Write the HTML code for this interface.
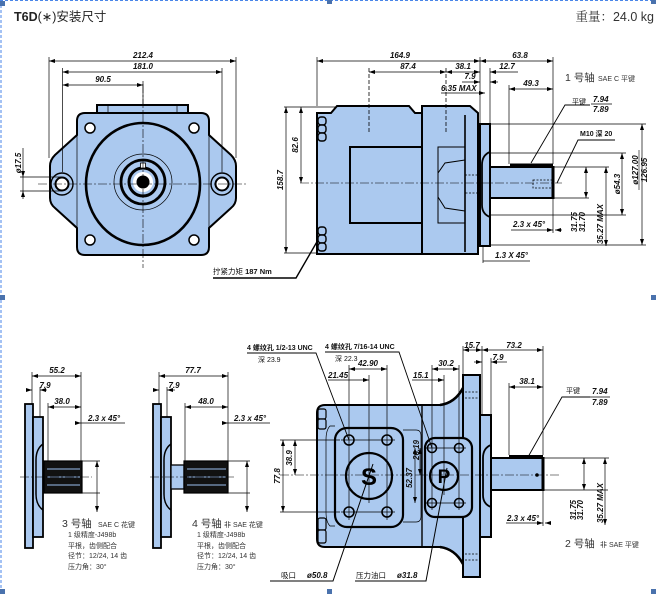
<!DOCTYPE html>
<html><head><meta charset="utf-8">
<style>
html,body{margin:0;padding:0;background:#fff;}
svg{display:block;}
text{font-family:"Liberation Sans","Noto Sans CJK SC",sans-serif;fill:#111;}
.n{font-size:8px;font-weight:bold;font-style:italic;}
.s{font-size:7px;fill:#333;}
.L{font-size:10.5px;fill:#333;}
.b{fill:#abc9ef;stroke:#000;stroke-width:2;}
.t{fill:none;stroke:#000;stroke-width:0.7;}
.m{fill:none;stroke:#000;stroke-width:1.4;}
.k{fill:none;stroke:#000;stroke-width:2.2;}
.c{fill:none;stroke:#000;stroke-width:0.6;stroke-dasharray:9 2 2 2;}
.d{fill:none;stroke:#000;stroke-width:0.7;marker-start:url(#a);marker-end:url(#a);}
.e{fill:none;stroke:#000;stroke-width:0.7;marker-end:url(#a);}
.h{fill:#4a72ad;}
</style></head><body>
<svg width="656" height="594" viewBox="0 0 656 594" xmlns="http://www.w3.org/2000/svg">
<defs>
<marker id="a" markerWidth="6" markerHeight="4" refX="6" refY="2" orient="auto-start-reverse" markerUnits="userSpaceOnUse"><path d="M0,0 L6,2 L0,4 z" fill="#000"/></marker>
</defs>
<rect width="656" height="594" fill="#fff"/>
<!-- selection border -->
<line x1="0" y1="0.5" x2="656" y2="0.5" stroke="#4a86e8" stroke-width="1" stroke-dasharray="3 2"/>
<line x1="1" y1="0" x2="1" y2="594" stroke="#4a86e8" stroke-width="1" stroke-dasharray="3 2"/>
<rect class="h" x="0" y="1" width="5" height="5"/>
<rect class="h" x="327" y="0" width="5" height="4"/>
<rect class="h" x="651" y="0" width="5" height="4"/>
<rect class="h" x="0" y="295" width="5" height="5"/>
<rect class="h" x="651" y="295" width="5" height="5"/>
<rect class="h" x="0" y="589" width="5" height="5"/>
<rect class="h" x="327" y="589" width="5" height="5"/>
<rect class="h" x="651" y="589" width="5" height="5"/>

<!-- title -->
<text x="14" y="21" style="font-size:12.5px;fill:#222;"><tspan font-weight="bold">T6D</tspan>(∗)安装尺寸</text>
<text x="654" y="21" text-anchor="end" style="font-size:12.5px;fill:#333;"><tspan font-family="Noto Serif CJK SC, serif">重量：</tspan>24.0 kg</text>

<!-- ============ TOP LEFT FRONT VIEW ============ -->
<path class="b" d="M97 114 L97 105 L188 105 L188 114 Z"/>
<line class="t" x1="108" y1="105" x2="108" y2="113"/><line class="t" x1="177" y1="105" x2="177" y2="113"/>
<path class="b" d="M85 113 L201 113 Q209 113 209 121 L209 135 L231 155 Q236 160 236 166 L236 198 Q236 204 231 208 L209 228 L209 247 Q209 255 201 255 L85 255 Q77 255 77 247 L77 228 L55 208 Q50 204 50 198 L50 166 Q50 160 55 155 L77 135 L77 121 Q77 113 85 113 Z"/>
<line class="t" x1="77" y1="135" x2="77" y2="228"/><line class="t" x1="209" y1="135" x2="209" y2="228"/>
<circle class="m" cx="62" cy="184" r="11"/><circle cx="62" cy="184" r="6.5" fill="#fff" stroke="#000" stroke-width="2"/>
<circle class="m" cx="222" cy="184" r="11"/><circle cx="222" cy="184" r="6.5" fill="#fff" stroke="#000" stroke-width="2"/>
<g fill="#fff" stroke="#000" stroke-width="1.5">
<circle cx="90" cy="128" r="5"/><circle cx="194" cy="128" r="5"/><circle cx="90" cy="240" r="5"/><circle cx="194" cy="240" r="5"/>
</g>
<ellipse cx="143" cy="184" rx="57" ry="61" fill="none" stroke="#000" stroke-width="2.6"/>
<ellipse cx="143" cy="182" rx="29" ry="28" class="t"/>
<circle cx="143" cy="182" r="22" fill="none" stroke="#000" stroke-width="2.8"/>
<circle cx="143" cy="182" r="14" fill="#abc9ef" stroke="#000" stroke-width="3"/>
<circle cx="143" cy="182" r="10" fill="#fff"/>
<circle cx="143" cy="182" r="6.5" fill="#000"/>
<rect x="140.5" y="163" width="5" height="5" fill="#fff" stroke="#000" stroke-width="0.8"/>
<line class="c" x1="38" y1="184" x2="248" y2="184"/>
<line class="c" x1="143" y1="84" x2="143" y2="268"/>
<!-- dims -->
<line class="d" x1="49" y1="61" x2="236" y2="61"/><text class="n" x="143" y="58" text-anchor="middle">212.4</text>
<line class="d" x1="62.5" y1="72" x2="222" y2="72"/><text class="n" x="143" y="69" text-anchor="middle">181.0</text>
<line class="d" x1="62.5" y1="85" x2="143" y2="85"/><text class="n" x="103" y="82" text-anchor="middle">90.5</text>
<line class="t" x1="49" y1="57" x2="49" y2="158"/><line class="t" x1="236" y1="57" x2="236" y2="158"/>
<line class="t" x1="62.5" y1="68" x2="62.5" y2="172"/><line class="t" x1="222" y1="68" x2="222" y2="172"/>
<line class="t" x1="143" y1="81" x2="143" y2="105"/>
<line class="t" x1="20" y1="177" x2="62" y2="177"/><line class="t" x1="20" y1="191" x2="62" y2="191"/>
<line class="t" x1="23" y1="148" x2="23" y2="199"/>
<path d="M23 177 l-2 -6 h4 z M23 191 l-2 6 h4 z"/>
<text class="n" transform="translate(21,163) rotate(-90)" text-anchor="middle">ø17.5</text>

<!-- torque callout -->
<text class="s" x="213" y="274" style="font-size:7.5px;fill:#111;">拧紧力矩 <tspan font-weight="bold">187 Nm</tspan></text>
<path d="M213 278 L296 278 L318 240" fill="none" stroke="#000" stroke-width="1.4"/>

<!-- ============ TOP RIGHT SIDE VIEW ============ -->
<path class="b" d="M317 113 L331 113 L337 106 L409 106 L415 113 L422 113 L422 254 L317 254 Z"/>
<path class="b" d="M422 106 L470 106 L478 113 L478 254 L422 254 Z"/>
<g fill="#abc9ef" stroke="#000" stroke-width="1.4">
<rect x="318" y="117" width="8" height="8" rx="3"/><rect x="318" y="125" width="8" height="8" rx="3"/><rect x="318" y="133" width="8" height="8" rx="3"/>
<rect x="318" y="227" width="8" height="8" rx="3"/><rect x="318" y="235" width="8" height="8" rx="3"/><rect x="318" y="243" width="8" height="8" rx="3"/>
</g>
<rect x="350" y="147" width="72" height="76" fill="#abc9ef" stroke="#000" stroke-width="2"/>
<line x1="465" y1="115" x2="465" y2="252" stroke="#000" stroke-width="1.6"/>
<path class="m" d="M465 147 L438 147 L438 173 L445 163 L465 160 M438 173 L438 197 L445 208 L465 211 M438 197 L438 223 L465 223" style="stroke-width:1"/>
<rect x="465" y="175" width="15" height="18" fill="none" stroke="#000" stroke-width="0.8" stroke-dasharray="2 1.5"/>
<rect class="b" x="480" y="124" width="10" height="122"/>
<path d="M490 152 Q482 155 482 165 L482 205 Q482 214 490 217" fill="none" stroke="#000" stroke-width="1.8"/>
<rect class="b" x="490" y="167" width="63" height="31"/>
<line x1="553" y1="166" x2="553" y2="199" stroke="#000" stroke-width="3"/>
<rect x="510" y="163.5" width="43" height="3.5" fill="#000"/>
<rect x="533" y="180" width="19" height="8" fill="none" stroke="#000" stroke-width="0.8" stroke-dasharray="2 1.5"/>
<line class="c" x1="300" y1="183" x2="562" y2="183"/>
<line x1="369" y1="68" x2="369" y2="132" stroke="#000" stroke-width="0.8" stroke-dasharray="4 2"/>
<line x1="446" y1="68" x2="446" y2="132" stroke="#000" stroke-width="0.8" stroke-dasharray="4 2"/>
<!-- top dims -->
<line class="d" x1="317" y1="61" x2="480" y2="61"/><text class="n" x="400" y="58" text-anchor="middle">164.9</text>
<line class="d" x1="480" y1="61" x2="553" y2="61"/><text class="n" x="520" y="58" text-anchor="middle">63.8</text>
<line class="t" x1="317" y1="57" x2="317" y2="106"/><line class="t" x1="480" y1="57" x2="480" y2="124"/>
<line class="t" x1="553" y1="57" x2="553" y2="164"/><line class="t" x1="490" y1="68" x2="490" y2="124"/>
<line class="d" x1="369" y1="72" x2="446" y2="72"/><text class="n" x="408" y="69" text-anchor="middle">87.4</text>
<line class="d" x1="446" y1="72" x2="480" y2="72"/><text class="n" x="463" y="69" text-anchor="middle">38.1</text>
<line class="e" x1="518" y1="72" x2="490" y2="72"/><text class="n" x="507" y="69" text-anchor="middle">12.7</text>
<line class="e" x1="462" y1="82" x2="480" y2="82"/><line class="e" x1="498" y1="82" x2="490" y2="82"/><text class="n" x="470" y="79" text-anchor="middle">7.9</text>
<line class="e" x1="441" y1="93" x2="485" y2="93"/><text class="n" x="441" y="91">6.35 MAX</text>
<line class="d" x1="509" y1="89" x2="553" y2="89"/><text class="n" x="531" y="86" text-anchor="middle">49.3</text>
<line class="t" x1="509" y1="85" x2="509" y2="164"/>
<text class="L" x="565" y="81">1 号轴</text><text class="s" x="598" y="81">SAE C 平键</text>
<!-- left dims -->
<line class="t" x1="284" y1="107" x2="336" y2="107"/><line class="t" x1="284" y1="253" x2="317" y2="253"/>
<line class="d" x1="301" y1="107" x2="301" y2="183"/><text class="n" transform="translate(298,145) rotate(-90)" text-anchor="middle">82.6</text>
<line class="d" x1="286" y1="107" x2="286" y2="253"/><text class="n" transform="translate(283,180) rotate(-90)" text-anchor="middle">158.7</text>
<!-- right dims -->
<line class="t" x1="490" y1="124" x2="646" y2="124"/><line class="t" x1="490" y1="245" x2="646" y2="245"/>
<line class="d" x1="642" y1="124" x2="642" y2="245"/>
<text class="n" transform="translate(638,170) rotate(-90)" text-anchor="middle">ø127.00</text>
<line x1="639" y1="150" x2="639" y2="190" stroke="#000" stroke-width="0.6"/>
<text class="n" transform="translate(647,170) rotate(-90)" text-anchor="middle">126.95</text>
<line class="t" x1="490" y1="153" x2="626" y2="153"/><line class="t" x1="490" y1="215" x2="626" y2="215"/>
<line class="d" x1="622" y1="153" x2="622" y2="215"/><text class="n" transform="translate(620,184) rotate(-90)" text-anchor="middle">ø54.3</text>
<line class="t" x1="553" y1="167" x2="609" y2="167"/><line class="t" x1="553" y1="198" x2="589" y2="198"/>
<line class="d" x1="586" y1="167" x2="586" y2="198"/>
<text class="n" transform="translate(577,222) rotate(-90)" text-anchor="middle">31.75</text>
<text class="n" transform="translate(585,222) rotate(-90)" text-anchor="middle">31.70</text>
<line class="d" x1="606" y1="167" x2="606" y2="246"/>
<text class="n" transform="translate(603,224) rotate(-90)" text-anchor="middle">35.27 MAX</text>
<text class="n" x="513" y="227">2.3 x 45°</text><line class="e" x1="511" y1="230" x2="553" y2="230"/><line class="t" x1="553" y1="198" x2="553" y2="233"/><line class="e" x1="562" y1="230" x2="555" y2="230"/>
<text class="n" x="495" y="258">1.3 X 45°</text><line class="t" x1="483" y1="261" x2="530" y2="261"/><line class="t" x1="483" y1="246" x2="483" y2="263"/>
<text class="s" x="572" y="104" style="fill:#111">平键</text>
<text class="n" x="593" y="102">7.94</text><line x1="591" y1="104" x2="612" y2="104" stroke="#000" stroke-width="0.7"/><text class="n" x="593" y="112">7.89</text>
<path d="M590 105 L565 105 L531 163" fill="none" stroke="#000" stroke-width="0.9"/>
<text class="s" x="580" y="136" style="fill:#111;font-weight:bold">M10 深 20</text>
<path d="M615 140 L578 140 L557 183" fill="none" stroke="#000" stroke-width="0.9"/>

<!-- ============ BOTTOM LEFT SHAFTS ============ -->
<!-- shaft 3 -->
<rect class="b" x="25" y="404" width="8" height="144" style="stroke-width:1.8"/>
<rect class="b" x="33" y="417" width="10" height="120" style="stroke-width:1.8"/>
<path d="M43 444 Q36 449 36 460 L36 494 Q36 505 43 510" fill="none" stroke="#000" stroke-width="1.5"/>
<rect x="44" y="461" width="38" height="32" fill="#111" stroke="#000" stroke-width="1.2"/>
<g stroke="#7f9cc4" stroke-width="1.2"><line x1="47" y1="469" x2="80" y2="469"/><line x1="47" y1="477" x2="80" y2="477"/><line x1="47" y1="485" x2="80" y2="485"/></g>
<line class="c" x1="20" y1="477" x2="92" y2="477"/>
<line class="d" x1="32" y1="376" x2="81" y2="376"/><text class="n" x="57" y="373" text-anchor="middle">55.2</text>
<line class="t" x1="32" y1="372" x2="32" y2="404"/><line class="t" x1="81" y1="372" x2="81" y2="461"/>
<line class="e" x1="26" y1="390" x2="32" y2="390"/><line class="e" x1="47" y1="390" x2="40" y2="390"/><text class="n" x="45" y="388" text-anchor="middle">7.9</text>
<line class="t" x1="40" y1="387" x2="40" y2="417"/>
<line class="d" x1="48" y1="407" x2="81" y2="407"/><text class="n" x="62" y="404" text-anchor="middle">38.0</text>
<line class="t" x1="48" y1="403" x2="48" y2="461"/>
<line class="e" x1="76" y1="423" x2="81" y2="423"/><line class="t" x1="81" y1="423" x2="125" y2="423"/><text class="n" x="88" y="421">2.3 x 45°</text>
<line class="t" x1="82" y1="461" x2="100" y2="461"/><line class="t" x1="82" y1="493" x2="100" y2="493"/>
<line class="d" x1="97" y1="461" x2="97" y2="512"/>
<text class="L" x="62" y="527">3 号轴</text><text class="s" x="98" y="527">SAE C 花键</text>
<text class="s" x="68" y="537">1 级精度-J498b</text>
<text class="s" x="68" y="548">平根，齿侧配合</text>
<text class="s" x="68" y="558">径节：12/24, 14 齿</text>
<text class="s" x="68" y="569">压力角：30°</text>
<!-- shaft 4 -->
<rect class="b" x="153" y="404" width="8" height="144" style="stroke-width:1.8"/>
<rect class="b" x="161" y="417" width="10" height="120" style="stroke-width:1.8"/>
<path d="M171 444 Q164 449 164 460 L164 494 Q164 505 171 510" fill="none" stroke="#000" stroke-width="1.5"/>
<rect class="b" x="171" y="465" width="13" height="24" style="stroke-width:1.3"/>
<rect x="184" y="461" width="44" height="32" fill="#111" stroke="#000" stroke-width="1.2"/>
<g stroke="#7f9cc4" stroke-width="1.2"><line x1="187" y1="469" x2="226" y2="469"/><line x1="187" y1="477" x2="226" y2="477"/><line x1="187" y1="485" x2="226" y2="485"/></g>
<line class="c" x1="150" y1="477" x2="236" y2="477"/>
<line class="d" x1="159" y1="376" x2="228" y2="376"/><text class="n" x="193" y="373" text-anchor="middle">77.7</text>
<line class="t" x1="159" y1="372" x2="159" y2="404"/><line class="t" x1="228" y1="372" x2="228" y2="461"/>
<line class="e" x1="153" y1="390" x2="159" y2="390"/><line class="e" x1="175" y1="390" x2="167" y2="390"/><text class="n" x="174" y="388" text-anchor="middle">7.9</text>
<line class="t" x1="167" y1="387" x2="167" y2="417"/>
<line class="d" x1="185" y1="407" x2="228" y2="407"/><text class="n" x="206" y="404" text-anchor="middle">48.0</text>
<line class="t" x1="185" y1="403" x2="185" y2="461"/>
<line class="e" x1="222" y1="423" x2="228" y2="423"/><line class="t" x1="228" y1="423" x2="270" y2="423"/><text class="n" x="234" y="421">2.3 x 45°</text>
<line class="t" x1="228" y1="461" x2="250" y2="461"/><line class="t" x1="228" y1="493" x2="250" y2="493"/>
<line class="d" x1="247" y1="461" x2="247" y2="512"/>
<text class="L" x="192" y="527">4 号轴</text><text class="s" x="224" y="527">非 SAE 花键</text>
<text class="s" x="197" y="537">1 级精度-J498b</text>
<text class="s" x="197" y="548">平根，齿侧配合</text>
<text class="s" x="197" y="558">径节：12/24, 14 齿</text>
<text class="s" x="197" y="569">压力角：30°</text>

<!-- ============ BOTTOM RIGHT PUMP ============ -->
<path class="b" d="M325 405 L440 405 Q455 403 463 388 L463 564 Q455 549 440 547 L325 547 Q317 547 317 539 L317 413 Q317 405 325 405 Z"/>
<path d="M440 405 Q455 403 463 388 M440 547 Q455 549 463 564" fill="none" stroke="#000" stroke-width="2.6"/>
<rect class="b" x="463" y="375" width="17" height="202"/>
<g stroke="#000" stroke-width="0.8" stroke-dasharray="2 1.5"><line x1="465" y1="392" x2="479" y2="392"/><line x1="465" y1="398" x2="479" y2="398"/><line x1="465" y1="554" x2="479" y2="554"/><line x1="465" y1="560" x2="479" y2="560"/></g>
<line x1="422" y1="405" x2="422" y2="547" stroke="#000" stroke-width="1.4"/>
<g fill="#abc9ef" stroke="#000" stroke-width="1.2">
<rect x="318" y="409" width="8" height="10" rx="2"/><rect x="318" y="419" width="8" height="10" rx="2"/>
<rect x="318" y="518" width="8" height="12" rx="2"/><rect x="318" y="530" width="8" height="13" rx="2"/>
</g>
<path d="M403 430 L416 430 Q421 430 421 436 L421 516 Q421 522 416 522 L403 522" class="t"/>
<path d="M335 426 L330 426 Q326 430 326 440 L326 512 Q326 522 330 526 L335 526" class="t"/>
<rect class="b" x="335" y="428" width="68" height="99" rx="12" style="stroke-width:2.2"/>
<rect class="b" x="425" y="438" width="47" height="79" rx="10" style="stroke-width:2.2"/>
<circle class="b" cx="369" cy="476" r="23" style="stroke-width:2.2"/>
<circle class="b" cx="444" cy="476" r="14" style="stroke-width:2.2"/>
<text x="369" y="485" text-anchor="middle" style="font-size:24px;font-weight:bold;fill:#000">S</text>
<text x="444" y="483" text-anchor="middle" style="font-size:19px;font-weight:bold;fill:#000">P</text>
<g fill="none" stroke="#000" stroke-width="1.6">
<circle cx="349" cy="440" r="5"/><circle cx="387" cy="440" r="5"/><circle cx="349" cy="512" r="5"/><circle cx="387" cy="512" r="5"/>
<circle cx="432" cy="448" r="4.5"/><circle cx="459" cy="448" r="4.5"/><circle cx="432" cy="503" r="4.5"/><circle cx="459" cy="503" r="4.5"/>
</g>
<g>
<line x1="349" y1="365" x2="349" y2="520" class="t"/><line x1="387" y1="365" x2="387" y2="520" class="t"/>
<line x1="369" y1="375" x2="369" y2="503" class="t"/>
<line x1="432" y1="365" x2="432" y2="510" class="t"/><line x1="459" y1="365" x2="459" y2="510" class="t"/>
<line x1="444" y1="375" x2="444" y2="495" class="t"/>
<line x1="341" y1="440" x2="395" y2="440" class="t"/><line x1="341" y1="512" x2="395" y2="512" class="t"/>
<line x1="425" y1="448" x2="466" y2="448" class="t"/><line x1="425" y1="503" x2="466" y2="503" class="t"/>
</g>
<rect class="b" x="480" y="415" width="11" height="122"/>
<path d="M491 445 Q483 448 483 458 L483 495 Q483 504 491 507" fill="none" stroke="#000" stroke-width="1.8"/>
<rect class="b" x="491" y="458" width="52" height="32"/>
<line x1="543" y1="457" x2="543" y2="491" stroke="#000" stroke-width="3"/>
<rect x="509" y="455" width="34" height="3.5" fill="#000"/>
<circle cx="537" cy="475" r="1.8" fill="#000"/>
<line class="c" x1="280" y1="475" x2="560" y2="475"/>
<!-- callouts -->
<text class="s" x="247" y="350" style="fill:#111;font-weight:bold">4 螺纹孔 1/2-13 UNC</text>
<text class="s" x="258" y="362" style="fill:#111">深 23.9</text>
<path d="M247 353 L316 353 L349 440" fill="none" stroke="#000" stroke-width="0.9"/>
<text class="s" x="325" y="349" style="fill:#111;font-weight:bold">4 螺纹孔 7/16-14 UNC</text>
<text class="s" x="335" y="361" style="fill:#111">深 22.3</text>
<path d="M325 352 L399 352 L432 448" fill="none" stroke="#000" stroke-width="0.9"/>
<line class="d" x1="349" y1="369" x2="387" y2="369"/><text class="n" x="368" y="366" text-anchor="middle">42.90</text>
<line class="e" x1="328" y1="380" x2="369" y2="380"/><text class="n" x="328" y="378">21.45</text>
<line class="d" x1="432" y1="369" x2="459" y2="369"/><text class="n" x="446" y="366" text-anchor="middle">30.2</text>
<line class="e" x1="412" y1="380" x2="444" y2="380"/><text class="n" x="413" y="378">15.1</text>
<line class="d" x1="415" y1="448" x2="415" y2="503"/>
<text class="n" transform="translate(412,478) rotate(-90)" text-anchor="middle">52.37</text>
<line class="d" x1="420" y1="448" x2="420" y2="475"/>
<text class="n" transform="translate(419,450) rotate(-90)" text-anchor="middle">26.19</text>
<!-- left dims -->
<line class="t" x1="280" y1="440" x2="340" y2="440"/><line class="t" x1="280" y1="512" x2="340" y2="512"/>
<line class="d" x1="283" y1="440" x2="283" y2="512"/><text class="n" transform="translate(280,476) rotate(-90)" text-anchor="middle">77.8</text>
<line class="d" x1="295" y1="440" x2="295" y2="475"/><text class="n" transform="translate(292,458) rotate(-90)" text-anchor="middle">38.9</text>
<!-- top right dims -->
<line class="t" x1="463" y1="346" x2="463" y2="375"/><line class="t" x1="482" y1="346" x2="482" y2="415"/>
<line class="t" x1="543" y1="346" x2="543" y2="455"/><line class="t" x1="491" y1="358" x2="491" y2="415"/>
<line class="d" x1="463" y1="350" x2="482" y2="350"/><text class="n" x="472" y="348" text-anchor="middle">15.7</text>
<line class="d" x1="482" y1="350" x2="543" y2="350"/><text class="n" x="514" y="348" text-anchor="middle">73.2</text>
<line class="e" x1="474" y1="362" x2="482" y2="362"/><line class="e" x1="507" y1="362" x2="491" y2="362"/><text class="n" x="498" y="360" text-anchor="middle">7.9</text>
<line class="d" x1="509" y1="387" x2="543" y2="387"/><text class="n" x="527" y="384" text-anchor="middle">38.1</text>
<line class="t" x1="509" y1="383" x2="509" y2="455"/>
<text class="s" x="566" y="393" style="fill:#111">平键</text>
<text class="n" x="592" y="394">7.94</text><line x1="590" y1="397" x2="610" y2="397" stroke="#000" stroke-width="0.7"/><text class="n" x="592" y="405">7.89</text>
<path d="M590 397 L562 397 L528 457" fill="none" stroke="#000" stroke-width="0.9"/>
<line class="t" x1="543" y1="458" x2="609" y2="458"/><line class="t" x1="543" y1="490" x2="608" y2="490"/>
<line class="d" x1="584" y1="458" x2="584" y2="490"/>
<text class="n" transform="translate(576,510) rotate(-90)" text-anchor="middle">31.75</text>
<text class="n" transform="translate(583,510) rotate(-90)" text-anchor="middle">31.70</text>
<line class="d" x1="605" y1="458" x2="605" y2="525"/>
<text class="n" transform="translate(603,503) rotate(-90)" text-anchor="middle">35.27 MAX</text>
<text class="n" x="507" y="521">2.3 x 45°</text><line class="e" x1="506" y1="523" x2="543" y2="523"/><line class="t" x1="543" y1="490" x2="543" y2="526"/><line class="e" x1="551" y1="523" x2="545" y2="523"/>
<text class="L" x="565" y="547">2 号轴</text><text class="s" x="600" y="547">非 SAE 平键</text>
<!-- bottom callouts -->
<text class="s" x="281" y="578" style="fill:#111;font-size:7.5px">吸口</text>
<text class="n" x="307" y="578">ø50.8</text>
<path d="M270 581 L333 581 L373 464" fill="none" stroke="#000" stroke-width="1"/>
<text class="s" x="356" y="578" style="fill:#111;font-size:7.5px">压力油口</text>
<text class="n" x="397" y="578">ø31.8</text>
<path d="M355 581 L426 581 L447 468" fill="none" stroke="#000" stroke-width="1"/>
</svg>
</body></html>
